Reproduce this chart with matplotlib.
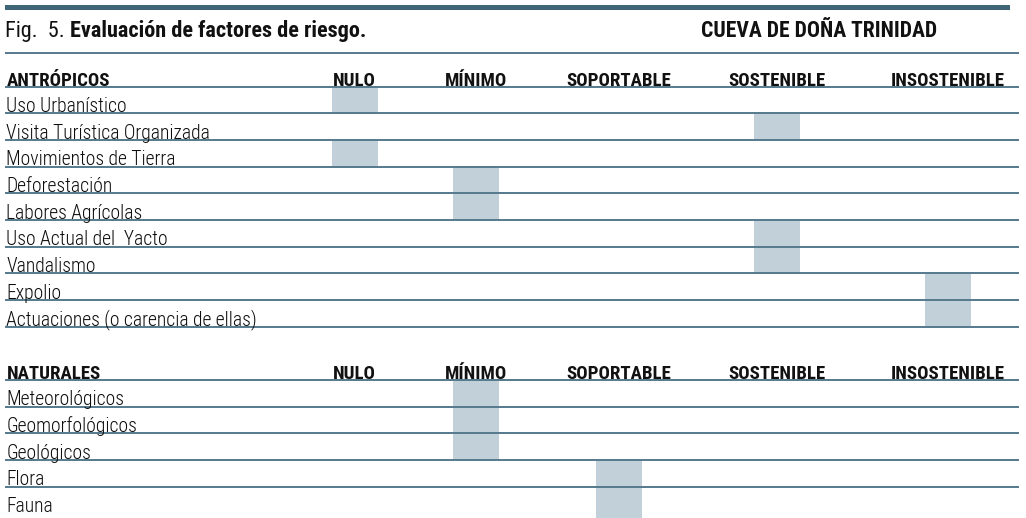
import matplotlib
matplotlib.use("Agg")
import matplotlib.pyplot as plt
from matplotlib import font_manager

# ---------------- data ----------------
levels = ["NULO", "MÍNIMO", "SOPORTABLE", "SOSTENIBLE", "INSOSTENIBLE"]

antropicos_factors = [
    "Uso Urbanístico",
    "Visita Turística Organizada",
    "Movimientos de Tierra",
    "Deforestación",
    "Labores Agrícolas",
    "Uso Actual del  Yacto",
    "Vandalismo",
    "Expolio",
    "Actuaciones (o carencia de ellas)",
]
antropicos_levels = ["NULO", "SOSTENIBLE", "NULO", "MÍNIMO", "MÍNIMO",
                     "SOSTENIBLE", "SOSTENIBLE", "INSOSTENIBLE", "INSOSTENIBLE"]

naturales_factors = ["Meteorológicos", "Geomorfológicos", "Geológicos", "Flora", "Fauna"]
naturales_levels = ["MÍNIMO", "MÍNIMO", "MÍNIMO", "SOPORTABLE", "SOPORTABLE"]

title_prefix = "Fig.  5."
title_main = "Evaluación de factores de riesgo."
title_right = "CUEVA DE DOÑA TRINIDAD"
group_names = ["ANTRÓPICOS", "NATURALES"]

# ---------------- style / layout ----------------
avail = {f.name for f in font_manager.fontManager.ttflist}
FONT = "Roboto Condensed" if "Roboto Condensed" in avail else "DejaVu Sans"
plt.rcParams["font.family"] = [FONT, "DejaVu Sans"]

W, H = 1026, 518
col_centers = [354.5, 475.5, 618.5, 776.5, 947.5]
col_width = 46
row_h = 26.67
x_left, x_right = 5, 1019
line_color = "#557a8b"
rect_color = "#c2d1d9"
bar_color = "#3f6577"
txt_color = "#111111"

fig = plt.figure(figsize=(W / 100, H / 100), dpi=100)
ax = fig.add_axes([0, 0, 1, 1])
ax.set_xlim(0, W)
ax.set_ylim(H, 0)
ax.axis("off")

# top bar and separator
ax.fill_between([x_left, 1010], 5, 10, color=bar_color, lw=0)
ax.hlines(52.5, x_left, x_right, color=line_color, lw=1.4)

# title
t1 = ax.text(x_left, 37, title_prefix + " ", fontsize=16, va="baseline", ha="left",
             color=txt_color)
fig.canvas.draw()
r = fig.canvas.get_renderer()
bb = t1.get_window_extent(renderer=r)
x_end = ax.transData.inverted().transform((bb.x1, bb.y0))[0]
ax.text(x_end, 37, title_main, fontsize=16, va="baseline", ha="left",
        fontweight="bold", color=txt_color)
ax.text(937, 37, title_right, fontsize=15.6, va="baseline", ha="right",
        fontweight="bold", color=txt_color)

col_of = {lv: i for i, lv in enumerate(levels)}


def draw_group(name, factors, lvls, header_line_y, last_extend=None):
    # header
    ax.text(x_left + 1.5, header_line_y - 1.0, name, fontsize=13.6, fontweight="bold",
            va="baseline", ha="left", color=txt_color)
    for lv, cx in zip(levels, col_centers):
        ax.text(cx, header_line_y - 1.0, lv, fontsize=13.6, fontweight="bold",
                va="baseline", ha="center", color=txt_color)
    ax.hlines(header_line_y, x_left, x_right, color=line_color, lw=1.4, zorder=3)
    n = len(factors)
    tops = [header_line_y + i * row_h for i in range(n)]
    heights = [row_h] * n
    if last_extend is not None:
        heights[-1] = last_extend - tops[-1]
    xs = [col_centers[col_of[lv]] for lv in lvls]
    ax.bar(xs, heights, bottom=tops, width=col_width, color=rect_color, lw=0, zorder=1)
    for i, f in enumerate(factors):
        yb = tops[i] + row_h
        ax.text(x_left + 1.5, yb - 1.5, f, fontsize=14.1, fontweight="light",
                va="baseline", ha="left", color="#0d0d0d", zorder=4)
        if i < n - 1 or last_extend is None:
            ax.hlines(yb, x_left, x_right, color=line_color, lw=1.4, zorder=3)


draw_group(group_names[0], antropicos_factors, antropicos_levels, 86.67)
draw_group(group_names[1], naturales_factors, naturales_levels, 380.0, last_extend=518)

fig.savefig("out.png", dpi=100)
